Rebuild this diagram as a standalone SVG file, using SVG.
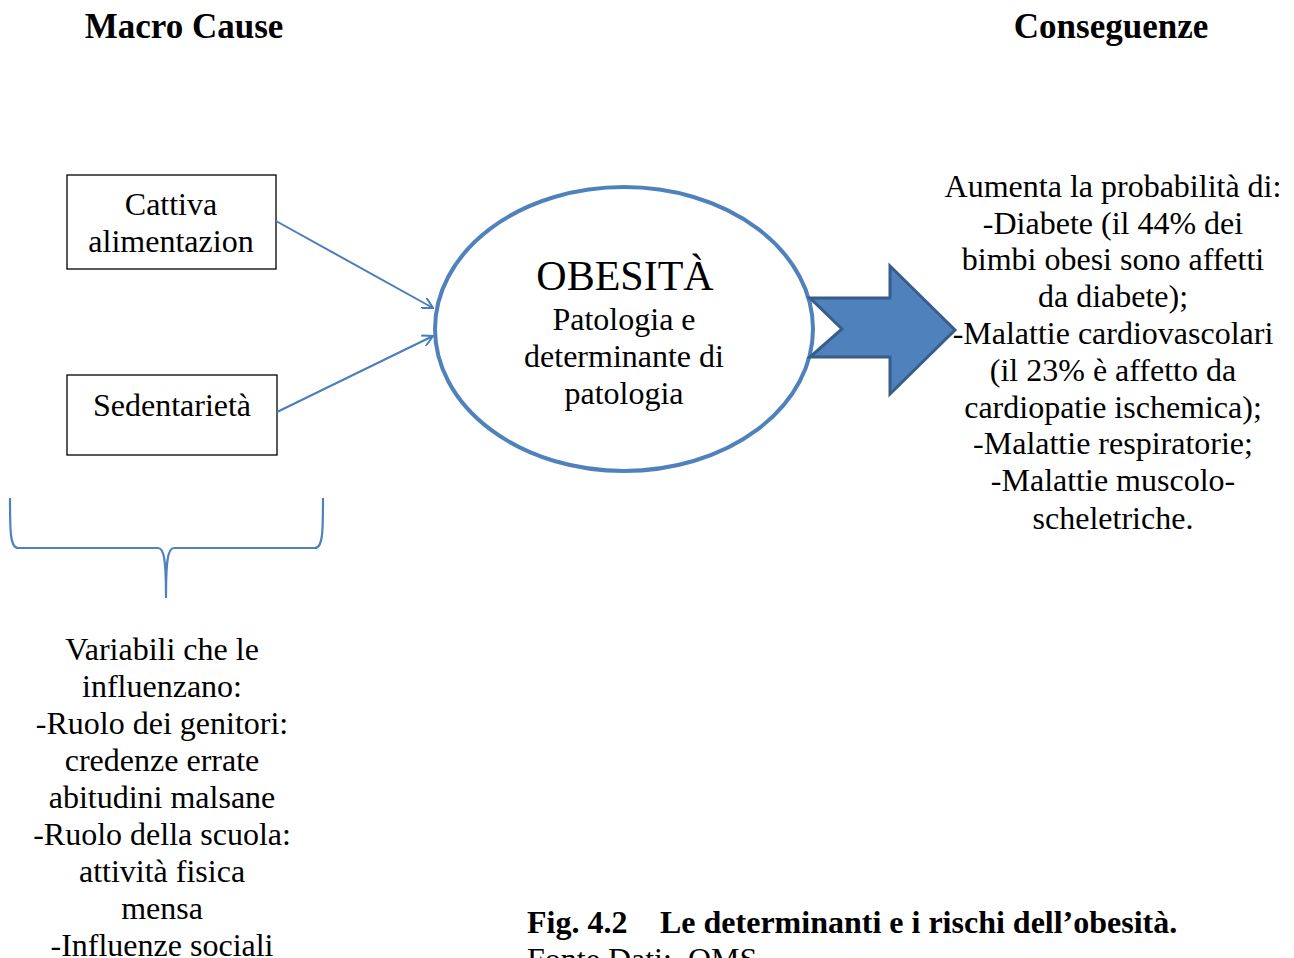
<svg xmlns="http://www.w3.org/2000/svg" width="1294" height="958" viewBox="0 0 1294 958">
  <style>
    .t { font-family: "Liberation Serif", "Times New Roman", serif; font-size: 32px; fill: #000; text-anchor: middle; }
    .l { text-anchor: start; }
    .b { font-weight: bold; }
    .h { font-size: 35px; }
    .big { font-size: 42px; }
    .box { fill: #fff; stroke: #000; stroke-width: 1.3; }
    .conn { fill: none; stroke: #4A7EBB; stroke-width: 2; }
  </style>
  <defs>
    <marker id="open" viewBox="0 0 12 12" refX="11" refY="6" markerWidth="12" markerHeight="12" markerUnits="userSpaceOnUse" orient="auto">
      <path d="M0,0 L11,6 L0,12" fill="none" stroke="#4A7EBB" stroke-width="2"/>
    </marker>
  </defs>
  <rect width="1294" height="958" fill="#fff"/>

  <!-- column headers -->
  <text class="t b h" x="184" y="38">Macro Cause</text>
  <text class="t b h" x="1111" y="38">Conseguenze</text>

  <!-- causes -->
  <g id="cattiva">
    <rect class="box" x="67" y="175" width="209" height="94"/>
    <text class="t" x="171" y="215">Cattiva</text>
    <text class="t" x="171" y="252">alimentazion</text>
  </g>
  <g id="sedentarieta">
    <rect class="box" x="67" y="375" width="210" height="80"/>
    <text class="t" x="172" y="416">Sedentarietà</text>
  </g>

  <!-- central condition -->
  <g id="obesita">
    <ellipse cx="624" cy="329" rx="189" ry="142" fill="#fff" stroke="#4F81BD" stroke-width="4"/>
    <text class="t big" x="625" y="290">OBESITÀ</text>
    <text class="t" x="624" y="330">Patologia e</text>
    <text class="t" x="624" y="367">determinante di</text>
    <text class="t" x="624" y="404">patologia</text>
  </g>

  <!-- block arrow towards consequences -->
  <g id="freccia">
    <path d="M810,298 L890,298 L890,266 L955,330 L890,394 L890,357 L810,357 L842,329 Z" fill="#4F81BD" stroke="#385D8A" stroke-width="3" stroke-linejoin="miter"/>
  </g>

  <!-- consequences -->
  <g id="conseguenze">
    <text class="t" x="1113" y="197">Aumenta la probabilità di:</text>
    <text class="t" x="1113" y="234">-Diabete (il 44% dei</text>
    <text class="t" x="1113" y="270">bimbi obesi sono affetti</text>
    <text class="t" x="1113" y="307">da diabete);</text>
    <text class="t" x="1113" y="344">-Malattie cardiovascolari</text>
    <text class="t" x="1113" y="381">(il 23% è affetto da</text>
    <text class="t" x="1113" y="418">cardiopatie ischemica);</text>
    <text class="t" x="1113" y="454">-Malattie respiratorie;</text>
    <text class="t" x="1113" y="491">-Malattie muscolo-</text>
    <text class="t" x="1113" y="529">scheletriche.</text>
  </g>

  <!-- brace grouping the causes -->
  <g id="graffa">
    <path d="M10,498 C10,530 10,548 18,548 L158,548 C164,548 166,560 166,598 C166,560 168,548 174,548 L315,548 C323,548 323,530 323,498" fill="none" stroke="#4F81BD" stroke-width="2.2"/>
  </g>

  <!-- influencing variables -->
  <g id="variabili">
    <text class="t" x="162" y="660">Variabili che le</text>
    <text class="t" x="162" y="697">influenzano:</text>
    <text class="t" x="162" y="734">-Ruolo dei genitori:</text>
    <text class="t" x="162" y="771">credenze errate</text>
    <text class="t" x="162" y="808">abitudini malsane</text>
    <text class="t" x="162" y="845">-Ruolo della scuola:</text>
    <text class="t" x="162" y="882">attività fisica</text>
    <text class="t" x="162" y="919">mensa</text>
    <text class="t" x="162" y="956">-Influenze sociali</text>
  </g>

  <!-- connectors -->
  <g id="connettori">
    <line class="conn" x1="276" y1="221" x2="433" y2="308" marker-end="url(#open)"/>
    <line class="conn" x1="277" y1="412" x2="433" y2="336" marker-end="url(#open)"/>
  </g>

  <!-- caption -->
  <g id="didascalia">
    <text class="t b l" x="527" y="933">Fig. 4.2</text>
    <text class="t b l" x="660" y="933">Le determinanti e i rischi dell’obesità.</text>
    <text class="t l" x="527" y="970" xml:space="preserve">Fonte Dati:  OMS</text>
  </g>
</svg>
